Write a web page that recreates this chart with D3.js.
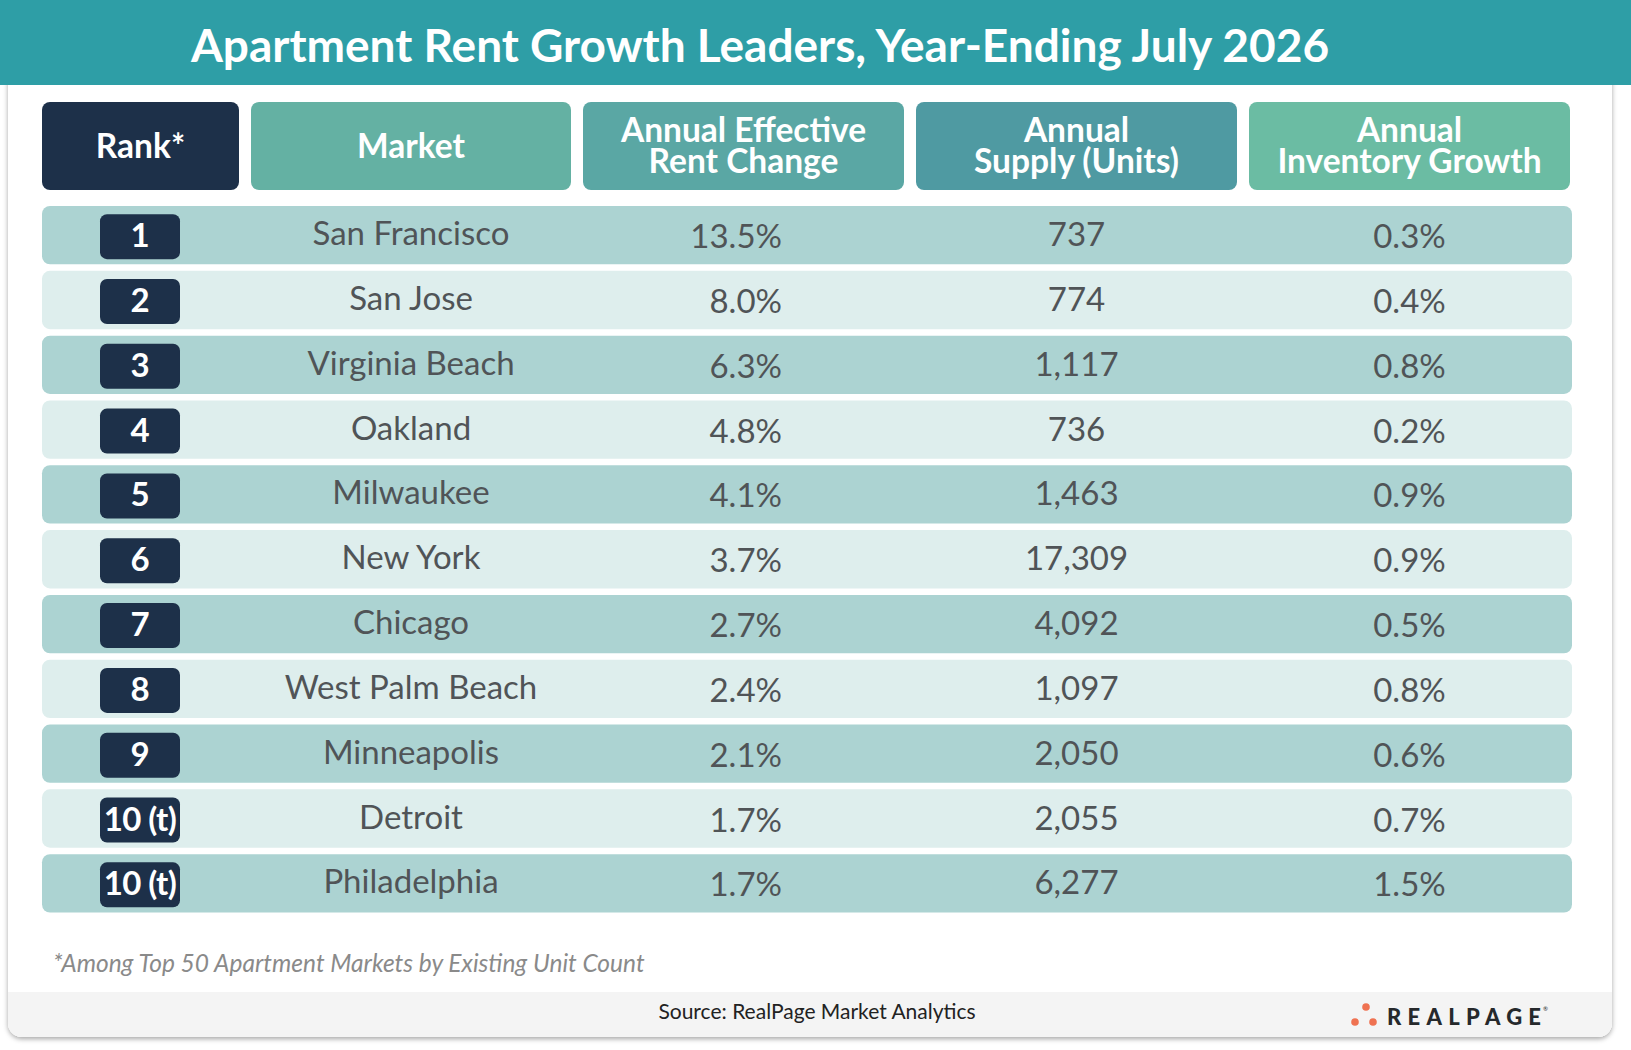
<!DOCTYPE html>
<html>
<head>
<meta charset="utf-8">
<script src="https://cdn.jsdelivr.net/npm/d3@7"></script>
<style>
  html, body { margin: 0; padding: 0; background: #fff; }
  svg { display: block; font-family: Lato, "Noto Sans", sans-serif; }
</style>
</head>
<body>
<svg id="chart" width="1631" height="1050"></svg>
<script>
// table values
var ranks = ['1', '2', '3', '4', '5', '6', '7', '8', '9', '10 (t)', '10 (t)'];
var markets = ['San Francisco', 'San Jose', 'Virginia Beach', 'Oakland', 'Milwaukee', 'New York',
	'Chicago', 'West Palm Beach', 'Minneapolis', 'Detroit', 'Philadelphia'];
var rentChange = [13.5, 8.0, 6.3, 4.8, 4.1, 3.7, 2.7, 2.4, 2.1, 1.7, 1.7];
var supplyUnits = [737, 774, 1117, 736, 1463, 17309, 4092, 1097, 2050, 2055, 6277];
var inventoryGrowth = [0.3, 0.4, 0.8, 0.2, 0.9, 0.9, 0.5, 0.8, 0.6, 0.7, 1.5];
var headers = [['Rank*'], ['Market'], ['Annual Effective', 'Rent Change'],
	['Annual', 'Supply (Units)'], ['Annual', 'Inventory Growth']];

var title = 'Apartment Rent Growth Leaders, Year-Ending July 2026';
var footnote = '*Among Top 50 Apartment Markets by Existing Unit Count';
var source = 'Source: RealPage Market Analytics';

var headColors = ['#1d3049', '#64b1a3', '#5aa7a4', '#4f9aa2', '#6bbca3'];
var rowColors = ['#acd3d2', '#deeeed'];
var textColor = '#505457';

var svg = d3.select('#chart');
var W = 1631;

// card shadow
var defs = svg.append('defs');
var f = defs.append('filter').attr('id', 'shadow')
	.attr('x', -0.05).attr('y', -0.05).attr('width', 1.1).attr('height', 1.1);
f.append('feDropShadow').attr('dx', 0).attr('dy', 2).attr('stdDeviation', 2.5)
	.attr('flood-color', '#000').attr('flood-opacity', 0.35);

defs.append('clipPath').attr('id', 'cardClip')
	.append('rect').attr('x', 8).attr('y', -30).attr('width', 1604).attr('height', 1067).attr('rx', 14);

svg.append('rect')
	.attr('x', 8).attr('y', -30)
	.attr('width', 1604).attr('height', 1067)
	.attr('rx', 14)
	.attr('fill', '#fff')
	.attr('filter', 'url(#shadow)');

// footer band
svg.append('rect')
	.attr('clip-path', 'url(#cardClip)')
	.attr('x', 8).attr('y', 992)
	.attr('width', 1604).attr('height', 60)
	.attr('fill', '#f4f4f4');

// title band
svg.append('rect')
	.attr('x', 0).attr('y', 0)
	.attr('width', W).attr('height', 85)
	.attr('fill', '#2e9ea6');

svg.append('text')
	.attr('x', 760).attr('y', 62)
	.attr('text-anchor', 'middle')
	.attr('fill', '#fff')
	.style('font-size', '46px')
	.style('font-weight', 700)
	.text(title);

// columns
var colWidths = [197, 320, 321, 321, 321];
var colGap = 12;
var colX = [];
colWidths.reduce(function(acc, w) { colX.push(acc); return acc + w + colGap; }, 42);

var rowIdx = d3.range(ranks.length);
var y = d3.scaleBand()
	.domain(rowIdx)
	.range([206, 912.5])
	.paddingInner(0.1)
	.paddingOuter(0);

// header boxes
var head = svg.append('g').selectAll('g')
	.data(headers)
	.enter()
	.append('g');

head.append('rect')
	.attr('x', (d, i) => colX[i])
	.attr('y', 102)
	.attr('width', (d, i) => colWidths[i])
	.attr('height', 88)
	.attr('rx', 8)
	.attr('fill', (d, i) => headColors[i]);

head.append('text')
	.attr('text-anchor', 'middle')
	.attr('fill', '#fff')
	.style('font-size', '33.5px')
	.style('font-weight', 700)
	.selectAll('tspan')
		.data((d, i) => d.map(function(t, j) { return {t: t, j: j, n: d.length, c: i}; }))
	.enter()
	.append('tspan')
		.attr('x', d => colX[d.c] + colWidths[d.c] / 2)
		.attr('y', d => d.n == 1 ? 158 : 142 + d.j * 31)
		.text(d => d.t);

// rows
var rows = svg.append('g').selectAll('g')
	.data(rowIdx)
	.enter()
	.append('g')
		.attr('transform', d => 'translate(0,' + y(d) + ')');

var bh = y.bandwidth();

rows.append('rect')
	.attr('x', 42)
	.attr('width', 1572 - 42)
	.attr('height', bh)
	.attr('rx', 8)
	.attr('fill', d => rowColors[d % 2]);

rows.append('rect')
	.attr('x', 100)
	.attr('y', bh / 2 - 21)
	.attr('width', 80)
	.attr('height', 45)
	.attr('rx', 7)
	.attr('fill', '#1d3049');

rows.append('text')
	.attr('x', 140)
	.attr('y', bh / 2 + 12)
	.attr('text-anchor', 'middle')
	.attr('fill', '#fff')
	.style('font-size', '33px')
	.style('font-weight', 700)
	.style('letter-spacing', d => ranks[d].length > 2 ? '-0.6px' : '0px')
	.text(d => ranks[d]);

var cellStyle = function(sel) {
	sel.attr('fill', textColor).style('font-size', '33px');
};

rows.append('text')
	.call(cellStyle)
	.attr('x', colX[1] + colWidths[1] / 2)
	.attr('y', bh / 2 + 10)
	.attr('text-anchor', 'middle')
	.text(d => markets[d]);

rows.append('text')
	.call(cellStyle)
	.attr('x', 782)
	.attr('y', bh / 2 + 13)
	.attr('text-anchor', 'end')
	.text(d => d3.format('.1f')(rentChange[d]) + '%');

rows.append('text')
	.call(cellStyle)
	.attr('x', colX[3] + colWidths[3] / 2)
	.attr('y', bh / 2 + 11)
	.attr('text-anchor', 'middle')
	.text(d => d3.format(',')(supplyUnits[d]));

rows.append('text')
	.call(cellStyle)
	.attr('x', colX[4] + colWidths[4] / 2)
	.attr('y', bh / 2 + 13)
	.attr('text-anchor', 'middle')
	.text(d => d3.format('.1f')(inventoryGrowth[d]) + '%');

// footnote + source
svg.append('text')
	.attr('x', 53).attr('y', 972)
	.attr('fill', '#8a8a8a')
	.style('font-size', '24.5px')
	.style('font-style', 'italic')
	.text(footnote);

svg.append('text')
	.attr('x', 817).attr('y', 1019)
	.attr('text-anchor', 'middle')
	.attr('fill', '#222')
	.style('font-size', '21px')
	.text(source);

// logo
var logo = svg.append('g');
logo.selectAll('circle')
	.data([[1366, 1007], [1355, 1022], [1373, 1022]])
	.enter()
	.append('circle')
		.attr('cx', d => d[0])
		.attr('cy', d => d[1])
		.attr('r', 3.8)
		.attr('fill', '#ef7251');
logo.append('text')
	.attr('x', 1387).attr('y', 1025)
	.attr('fill', '#26292c')
	.attr('textLength', 154)
	.attr('lengthAdjust', 'spacing')
	.style('font-size', '22px')
	.style('font-weight', 900)
	.text('REALPAGE');
logo.append('text')
	.attr('x', 1543).attr('y', 1011)
	.attr('fill', '#26292c')
	.style('font-size', '6px')
	.text('®');
</script>
</body>
</html>
